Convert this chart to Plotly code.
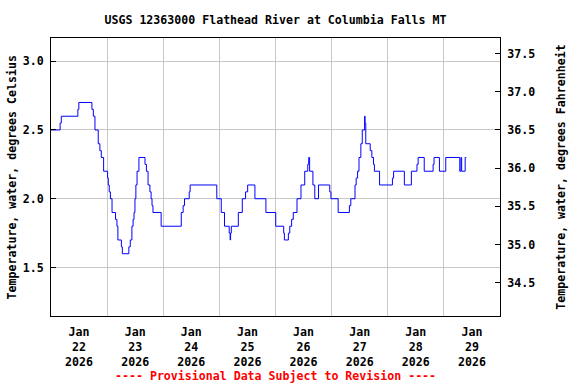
import plotly.graph_objects as go
import pandas as pd

# ---- data ----
start = pd.Timestamp("2026-01-22 00:00")
hours = [0, 3.9, 4.4, 11.5, 11.9, 17.5, 18.1, 18.8, 20.2, 20.9, 21.5, 22.5,
         24.2, 24.5, 24.9, 25.4, 26.1, 27.6, 28.2, 28.6, 30.1, 30.5, 33.3, 33.9,
         34.6, 35.1, 35.5, 35.9, 36.3, 36.8, 37.6, 40.2, 40.8, 41.5, 42.3, 42.8,
         43.2, 43.6, 47.1, 55.7, 56.5, 57.1, 59.1, 59.5, 70.9, 72.8, 74.2, 76.2,
         76.6, 76.8, 77.1, 80.1, 81.8, 83.2, 84.1, 87.2, 91.9, 96.1, 99.5, 99.8,
         101.5, 102.1, 102.9, 103.6, 105.2, 106.9, 108.5, 109.8, 110.2, 110.6,
         112.0, 112.8, 114.4, 119.2, 119.7, 122.8, 127.6, 128.2, 130.0, 130.5,
         131.1, 131.7, 132.5, 133.1, 134.1, 134.3, 134.6, 136.5, 137.2, 137.9,
         138.3, 140.5, 146.0, 146.5, 151.1, 154.1, 156.5, 157.0, 159.6, 163.4,
         163.8, 166.1, 168.8, 174.8, 175.3, 175.6, 177.1, 177.6]
temp_c = [2.5, 2.55, 2.6, 2.65, 2.7, 2.65, 2.6, 2.5, 2.4, 2.35, 2.3, 2.2,
          2.15, 2.1, 2.05, 2.0, 1.9, 1.85, 1.8, 1.7, 1.65, 1.6, 1.65, 1.7,
          1.8, 1.85, 1.9, 2.0, 2.1, 2.2, 2.3, 2.25, 2.2, 2.1, 2.05, 2.0,
          1.95, 1.9, 1.8, 1.9, 1.95, 2.0, 2.05, 2.1, 2.0, 1.9, 1.8, 1.75,
          1.7, 1.75, 1.8, 1.9, 2.0, 2.05, 2.1, 2.0, 1.9, 1.8, 1.75, 1.7,
          1.75, 1.8, 1.85, 1.9, 2.0, 2.1, 2.2, 2.25, 2.3, 2.2,
          2.1, 2.0, 2.1, 2.05, 2.0, 1.9, 1.95, 2.0, 2.1, 2.15,
          2.2, 2.3, 2.4, 2.5, 2.6, 2.55, 2.4, 2.35, 2.3, 2.25,
          2.2, 2.1, 2.15, 2.2, 2.1, 2.2, 2.25, 2.3, 2.2, 2.25,
          2.3, 2.2, 2.3, 2.2, 2.3, 2.2, 2.3, 2.3]

tick_days = ["2026-01-22", "2026-01-23", "2026-01-24", "2026-01-25",
             "2026-01-26", "2026-01-27", "2026-01-28", "2026-01-29"]
tick_labels = ["Jan<br>22<br>2026", "Jan<br>23<br>2026", "Jan<br>24<br>2026",
               "Jan<br>25<br>2026", "Jan<br>26<br>2026", "Jan<br>27<br>2026",
               "Jan<br>28<br>2026", "Jan<br>29<br>2026"]
c_ticks = [1.5, 2.0, 2.5, 3.0]
f_ticks = [34.5, 35.0, 35.5, 36.0, 36.5, 37.0, 37.5]

title = "USGS 12363000 Flathead River at Columbia Falls MT"
left_title = "Temperature, water, degrees Celsius"
right_title = "Temperature, water, degrees Fahrenheit"
footer = "---- Provisional Data Subject to Revision ----"

times = [start + pd.Timedelta(hours=h) for h in hours]
tick_pos = [pd.Timestamp(d) + pd.Timedelta(hours=12) for d in tick_days]

c_range = [1.147, 3.169]
f_range = [c * 1.8 + 32 for c in c_range]

FONT = "DejaVu Sans Mono"
FS = 11.6
fnt = dict(family=FONT, size=FS, color="black", weight="bold")

fig = go.Figure()
fig.add_trace(go.Scatter(x=times, y=temp_c, mode="lines",
                         line=dict(color="#0000FF", width=1, shape="hv"),
                         showlegend=False, hoverinfo="skip"))

fig.update_layout(
    width=576, height=384,
    margin=dict(l=51, r=76, t=38, b=68, pad=0),
    paper_bgcolor="white", plot_bgcolor="white",
    font=fnt,
    title=dict(text=title, x=0.5, xref="paper", y=1 - 20 / 384,
               yref="container", yanchor="middle", xanchor="center",
               font=fnt, automargin=False),
    xaxis=dict(
        range=[pd.Timestamp("2026-01-22"), pd.Timestamp("2026-01-30")],
        tickmode="array", tickvals=tick_pos, ticktext=tick_labels,
        ticks="", showgrid=False, tickfont=fnt, automargin=False,
        ticklabelstandoff=5,
        showline=True, linecolor="black", linewidth=1, mirror=True,
        zeroline=False,
        minor=dict(dtick=86400000, tick0="2026-01-22", showgrid=True,
                   gridcolor="#c8c8c8", gridwidth=1, ticks=""),
    ),
    yaxis=dict(
        range=c_range, tickmode="array", tickvals=c_ticks,
        ticktext=[f"{v:.1f}" for v in c_ticks], automargin=False,
        ticks="inside", ticklen=5, tickcolor="black", tickfont=fnt,
        showgrid=True, gridcolor="#c8c8c8", gridwidth=1,
        showline=True, linecolor="black", linewidth=1, mirror=True,
        zeroline=False, ticklabelstandoff=4,
    ),
    yaxis2=dict(
        range=f_range, overlaying="y", side="right", anchor="x",
        tickmode="array", tickvals=f_ticks, automargin=False,
        ticktext=[f"{v:.1f}" for v in f_ticks],
        ticks="inside", ticklen=5, tickcolor="black", tickfont=fnt,
        showgrid=False, showline=True, linecolor="black", linewidth=1,
        zeroline=False, ticklabelstandoff=4,
    ),
)

fig.add_trace(go.Scatter(x=[times[0]], y=[temp_c[0] * 1.8 + 32], yaxis="y2",
                         mode="markers", marker=dict(opacity=0),
                         showlegend=False, hoverinfo="skip"))

fig.add_annotation(text=left_title, textangle=-90, xref="paper", yref="paper",
                   x=(13 - 51.5) / 448, y=0.5, xanchor="center", yanchor="middle",
                   showarrow=False, font=fnt)
fig.add_annotation(text=right_title, textangle=-90, xref="paper", yref="paper",
                   x=(560 - 51.5) / 448, y=0.5, xanchor="center", yanchor="middle",
                   showarrow=False, font=fnt)
fig.add_annotation(text=footer, xref="paper", yref="paper",
                   x=0.5, y=(316 - 376) / 278, xanchor="center", yanchor="middle",
                   showarrow=False, font=dict(family=FONT, size=FS, color="#FF0000",
                                              weight="bold"))

fig.write_html("out.html", config={"displayModeBar": False},
               post_script="document.body.style.margin='0';document.body.style.padding='0';")
